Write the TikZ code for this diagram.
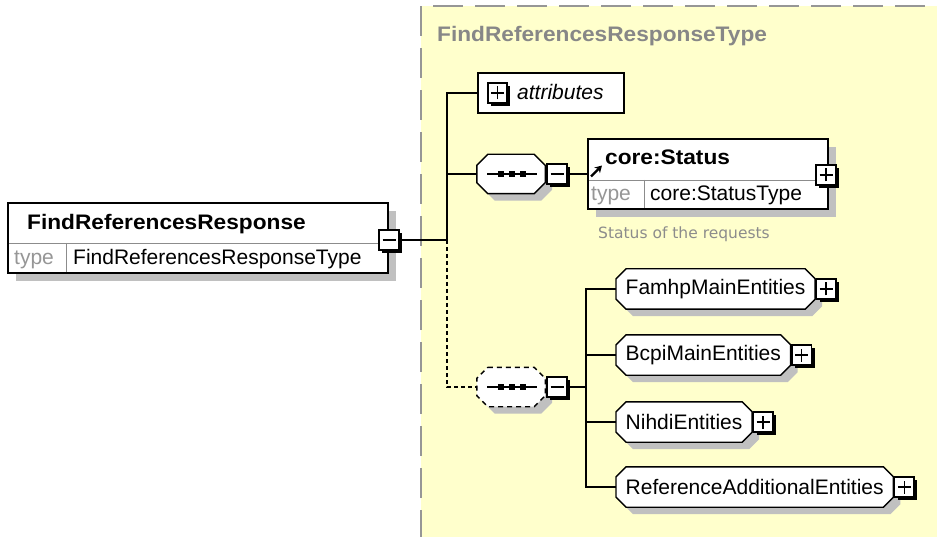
\documentclass[tikz,border=0pt]{standalone}
\usepackage{fontspec}
\setmainfont{Liberation Sans}
\newfontfamily\widefont{Liberation Sans}[FakeStretch=1.08]
\newfontfamily\dvfont{DejaVu Sans}
\usetikzlibrary{shadows,arrows.meta}
\definecolor{bgyellow}{RGB}{255,255,204}
\definecolor{bordergray}{RGB}{150,150,150}
\definecolor{shadowgray}{RGB}{192,192,192}
\definecolor{typegray}{RGB}{150,150,150}
\definecolor{titlegray}{RGB}{135,135,135}
\definecolor{divgray}{RGB}{140,140,140}
\definecolor{docgray}{RGB}{140,140,140}
\pgfdeclarelayer{bgzero}
\pgfdeclarelayer{bgone}
\pgfsetlayers{bgzero,bgone,main}
\newcommand\octpath[2]{([xshift=#2]#1.north west) -- ([xshift=-#2]#1.north east) -- ([yshift=-#2]#1.north east) -- ([yshift=#2]#1.south east) -- ([xshift=-#2]#1.south east) -- ([xshift=#2]#1.south west) -- ([yshift=#2]#1.south west) -- ([yshift=-#2]#1.north west) -- cycle}
\tikzset{
  every node/.style={font=\fontsize{21}{24}\selectfont, inner sep=0pt},
  boldtxt/.style={font=\widefont\bfseries\fontsize{21}{24}\selectfont},
  gshadow/.style={drop shadow={shadow xshift=8pt, shadow yshift=-8pt, fill=shadowgray, opacity=1}},
  elembox/.style={rectangle, draw=black, line width=1.5pt, fill=white, gshadow},
  attrbox/.style={rectangle, draw=black, line width=1.5pt, fill=white},
  octnode/.style={rectangle, minimum height=40pt, inner xsep=9.5pt},
  seqnode/.style={rectangle, minimum width=68pt, minimum height=39pt},
  octshadow/.style={fill=shadowgray, transform canvas={shift={(7pt,-7pt)}}},
  octdraw/.style={fill=white, draw=black, line width=1.4pt},
  tog/.style={rectangle, draw=black, line width=1.6pt, fill=white, minimum size=19.5pt,
    drop shadow={shadow xshift=3.2pt, shadow yshift=-3.2pt, fill=black, opacity=1}},
  togminus/.style={tog, path picture={\draw[line width=1.7pt] ([xshift=-6.5pt]path picture bounding box.center) -- ([xshift=6.5pt]path picture bounding box.center);}},
  togplus/.style={tog, path picture={\draw[line width=1.7pt] ([xshift=-6.5pt]path picture bounding box.center) -- ([xshift=6.5pt]path picture bounding box.center) ([yshift=-6.5pt]path picture bounding box.center) -- ([yshift=6.5pt]path picture bounding box.center);}},
  conn/.style={line width=1.6pt, draw=black},
  dconn/.style={conn, dash pattern=on 4pt off 3pt},
  divline/.style={draw=divgray, line width=0.9pt},
}
\begin{document}
\begin{tikzpicture}[x=1pt,y=-1pt]
\useasboundingbox (0,0) rectangle (937,537);
% complex type background
\begin{pgfonlayer}{bgzero}
  \fill[bgyellow] (421,6) rectangle (940,540);
  \draw[bordergray, line width=2pt, dash pattern=on 30pt off 12pt] (421,540) -- (421,6) -- (940,6);
\end{pgfonlayer}
\node[boldtxt, anchor=base west, text=titlegray] (title) at (437,42) {FindReferencesResponseType};

% root element
\node[elembox, minimum width=380pt, minimum height=70pt] (elem) at (198,238) {};
\draw[divline] (8.8,243) -- (387.2,243);
\draw[divline] (66,243) -- (66,272.2);
\node[boldtxt, anchor=base west] (elemname) at (27,230) {FindReferencesResponse};
\node[anchor=base west, text=typegray] (elemtypel) at (14,265) {type};
\node[anchor=base west] (elemtype) at (73,265) {FindReferencesResponseType};
\node[togminus] (mt) at (389,240) {};
\coordinate (j1) at (447,240);
\draw[conn] (mt.east) -- (j1);

% attributes
\node[attrbox, minimum width=146pt, minimum height=40pt] (attr) at (551,93) {};
\node[togplus] (attrt) at (497.5,93) {};
\node[anchor=base west, font=\fontsize{21}{24}\selectfont\itshape] (attrtxt) at (517,100) {attributes};
\draw[conn] (j1) |- (attr.west);

% first sequence
\node[seqnode] (seq1) at (511,174) {};
\begin{pgfonlayer}{bgone}
  \fill[octshadow] \octpath{seq1}{11pt};
  \filldraw[octdraw] \octpath{seq1}{11pt};
\end{pgfonlayer}
\draw[line width=1.4pt] ([xshift=-24pt]seq1.center) -- ([xshift=26pt]seq1.center);
\foreach \dx in {-10,1,12} \fill ([xshift=\dx pt]seq1.center) +(-3pt,-3pt) rectangle +(3pt,3pt);
\draw[conn] (j1) |- (seq1.west);
\node[togminus] (t1) at (557,174) {};

% core:Status
\node[elembox, minimum width=240pt, minimum height=70pt] (core) at (708,174) {};
\draw[conn] (t1.east) -- (core.west);
\draw[divline] (588.8,180) -- (827.2,180);
\draw[divline] (644,180) -- (644,208.2);
\node[boldtxt, anchor=base west] (corename) at (605,165) {core:Status};
\draw[line width=2.4pt, -{Stealth[length=7pt,width=8pt]}] (591,176.5) -- (602,165.5);
\node[anchor=base west, text=typegray] (coretypel) at (591,201) {type};
\node[anchor=base west] (coretype) at (650,201) {core:StatusType};
\node[togplus] (coret) at (826,175) {};
\node[anchor=base west, font=\dvfont\fontsize{15.5}{18}\selectfont, text=docgray] (doc) at (598,239) {Status of the requests};

% second sequence (optional)
\node[seqnode] (seq2) at (511,387) {};
\begin{pgfonlayer}{bgone}
  \fill[octshadow] \octpath{seq2}{11pt};
  \filldraw[octdraw, dash pattern=on 5pt off 4pt] \octpath{seq2}{11pt};
\end{pgfonlayer}
\draw[line width=1.4pt] ([xshift=-24pt]seq2.center) -- ([xshift=26pt]seq2.center);
\foreach \dx in {-10,1,12} \fill ([xshift=\dx pt]seq2.center) +(-3pt,-3pt) rectangle +(3pt,3pt);
\draw[dconn] (j1) |- (seq2.west);
\node[togminus] (t2) at (557,387) {};
\coordinate (j2) at (586,387);
\draw[conn] (t2.east) -- (j2);

% children
\node[octnode, anchor=west] (fam) at (616,289) {FamhpMainEntities};
\node[octnode, anchor=west] (bcpi) at (616,355) {BcpiMainEntities};
\node[octnode, anchor=west] (nihdi) at (616,422) {NihdiEntities};
\node[octnode, anchor=west] (refadd) at (616,487) {ReferenceAdditionalEntities};
\begin{pgfonlayer}{bgone}
  \foreach \n in {fam,bcpi,nihdi,refadd} {
    \fill[octshadow] \octpath{\n}{10pt};
    \filldraw[octdraw] \octpath{\n}{10pt};
  }
\end{pgfonlayer}
\node[togplus] (famt) at ([xshift=11pt]fam.east) {};
\node[togplus] (bcpit) at ([xshift=11pt]bcpi.east) {};
\node[togplus] (nihdit) at ([xshift=11pt]nihdi.east) {};
\node[togplus] (refaddt) at ([xshift=11pt]refadd.east) {};
\draw[conn] (j2) |- (fam.west);
\draw[conn] (j2) |- (bcpi.west);
\draw[conn] (j2) |- (nihdi.west);
\draw[conn] (j2) |- (refadd.west);
\end{tikzpicture}
\end{document}
